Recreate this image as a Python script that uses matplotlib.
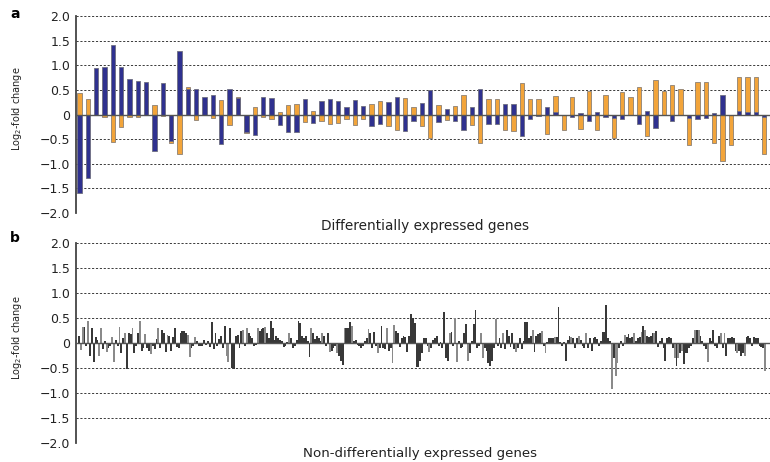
import numpy as np
import matplotlib.pyplot as plt

# log2-fold change per differentially expressed gene, two conditions per gene
de_orange = [0.43, 0.32, 0.0, -0.05, -0.55, -0.26, -0.05, -0.05, 0.62, 0.19,
             -0.04, -0.57, -0.81, 0.55, -0.11, 0.0, -0.07, 0.30, -0.22, 0.35,
             -0.38, 0.16, -0.05, -0.09, 0.06, 0.19, 0.22, -0.16, 0.07, -0.14,
             -0.19, -0.17, -0.09, -0.22, -0.10, 0.21, 0.28, -0.24, -0.32, 0.34,
             0.15, -0.24, -0.47, 0.19, -0.11, 0.17, 0.40, -0.22, -0.57, 0.31,
             0.32, -0.32, -0.34, 0.64, 0.32, 0.31, -0.39, 0.38, -0.32, 0.36,
             -0.30, 0.47, -0.32, 0.39, -0.47, 0.45, 0.36, 0.55, -0.43, 0.70,
             0.47, 0.59, 0.51, -0.61, 0.66, 0.66, -0.58, -0.95, -0.61, 0.77,
             0.77, 0.77, -0.81]
de_blue = [-1.59, -1.29, 0.95, 0.96, 1.41, 0.97, 0.73, 0.68, 0.65, -0.74,
           0.64, -0.53, 1.28, 0.52, 0.52, 0.35, 0.40, -0.60, 0.52, 0.33,
           -0.36, -0.41, 0.35, 0.34, -0.22, -0.35, -0.36, 0.31, -0.17, 0.28,
           0.32, 0.28, 0.16, 0.30, 0.18, -0.24, -0.20, 0.26, 0.36, -0.33,
           -0.13, 0.24, 0.49, -0.16, 0.12, -0.13, -0.31, 0.15, 0.51, -0.19,
           -0.19, 0.21, 0.21, -0.44, -0.09, -0.03, 0.15, 0.06, 0.0, -0.06,
           0.03, -0.13, 0.06, -0.06, -0.07, -0.09, 0.0, -0.19, 0.07, -0.27,
           0.0, -0.13, 0.0, -0.07, -0.10, -0.07, 0.03, 0.40, 0.0, 0.08,
           0.06, 0.06, -0.05]

# non-differentially expressed genes
nd_part1 = [0.15, -0.13, 0.33, 0.32, -0.05, 0.45, -0.25, 0.30, -0.38, 0.12, 0.06,
            -0.25, 0.30, -0.12, 0.05, -0.18, -0.10, -0.05, 0.12, -0.38, 0.07,
            -0.05, 0.33, -0.20, 0.10, 0.20, -0.52, 0.20, 0.18, 0.30, -0.20, -0.06,
            0.20, 0.45, -0.15, -0.10, 0.18, -0.10, -0.15, -0.22, -0.05, -0.12, 0.08,
            0.30, -0.10, 0.27, 0.20, -0.18, 0.17, 0.15, -0.15, 0.12, 0.30, -0.07,
            -0.10, 0.20, 0.25, 0.25, 0.20, 0.17, -0.27, -0.10, -0.05, 0.12, 0.05,
            -0.05, -0.05, -0.05, 0.07, -0.03, 0.05, -0.07, 0.43, -0.12, 0.20, -0.06, 0.08,
            0.15, -0.10, 0.35, -0.25, -0.38, 0.30, -0.50, -0.52, 0.15, 0.17,
            -0.10, 0.25, 0.27, -0.05, 0.30, 0.20, 0.15, 0.10, -0.05]
nd_part2 = [-0.03, 0.30, 0.25, 0.28, 0.30, 0.33, 0.20, 0.10, 0.45, 0.30, 0.06,
            0.15, 0.10, 0.07, 0.05, -0.07, -0.05, 0.03, 0.20, 0.10, -0.10, -0.05,
            0.07, 0.45, 0.40, 0.15, 0.10, 0.15, 0.05, -0.27, 0.30, 0.20, 0.08,
            0.15, 0.10, 0.05, 0.20, 0.15, -0.05, 0.20, -0.18, -0.15, -0.10, -0.06,
            -0.20, -0.25, -0.35, -0.43, 0.30, 0.30, 0.30, 0.43, 0.35, 0.05, 0.07,
            -0.03, -0.05, -0.10, -0.05, 0.05, 0.10, 0.28, 0.20, -0.10, 0.22, -0.05,
            -0.20, -0.10, 0.35, -0.10, -0.12, 0.30, -0.15, -0.10, -0.40, 0.36,
            0.25, 0.20, -0.08, 0.10, 0.15, 0.13, -0.18, 0.15, 0.58, 0.50,
            0.40, -0.47, -0.47, -0.35, -0.20, 0.10, 0.10, -0.05, -0.17, -0.10,
            0.07, 0.10, 0.15, -0.05, 0.03, -0.10, 0.63, -0.30, -0.35, 0.20,
            0.22, -0.05, 0.50, -0.38, 0.05, -0.10, -0.07, 0.20, 0.38, -0.35,
            -0.20, 0.05, 0.38, 0.67, -0.10, -0.05, 0.20, -0.30, -0.10, -0.15,
            -0.40, -0.45, -0.35, -0.10, 0.48]
nd_part3 = [-0.05, 0.10, -0.10, 0.20, -0.12, 0.27, 0.15, -0.08, 0.20, -0.12,
            -0.17, -0.10, 0.10, -0.12, 0.05, 0.43, 0.43, 0.10, 0.15, 0.27,
            -0.17, 0.15, 0.18, 0.20, 0.25, -0.05, -0.20, 0.02, 0.10, 0.10,
            0.10, 0.12, 0.13, 0.73, 0.03, -0.05, 0.03, -0.35, 0.07, 0.15,
            0.12, 0.10, -0.10, 0.10, 0.15, 0.07, -0.05, -0.10, 0.20, -0.10,
            0.10, -0.15, 0.10, 0.12, 0.08, -0.05, 0.05, 0.23, 0.23, 0.77,
            0.10, 0.05, -0.92, -0.30, -0.65, -0.40, -0.10, 0.05, -0.05, 0.17,
            0.12, 0.18, 0.10, 0.13, 0.20, 0.05, 0.10, 0.12, 0.22,
            0.35, 0.27, 0.15, 0.12, 0.15, 0.20, 0.20, 0.25, -0.07,
            0.05, 0.10, -0.10, -0.35, 0.10, 0.12, 0.10, -0.10,
            -0.30, -0.45, -0.30, -0.20, -0.15, -0.42, -0.20, -0.20, -0.10, -0.05,
            0.10, 0.27, 0.27, 0.27, 0.15, 0.05, -0.05, -0.12, -0.38,
            0.10, 0.05, 0.27, -0.05, -0.10, 0.15, 0.20, -0.10, 0.20,
            -0.25, 0.10, 0.10, 0.12, 0.10, -0.15, -0.20, -0.15, -0.25,
            -0.20, -0.25, 0.12, 0.15, 0.10, -0.05, 0.12, 0.10, 0.10,
            -0.05, -0.07, -0.10, -0.55]
# which condition each bar belongs to (d = dark, l = light)
nd_cond1 = ("dllddldddd d llddlddlld dlddldddld d dlddlddldd d lddddldddd d "
            "dddddllddl d dddddddddd dd dddllddddd ddldldd dd")
nd_cond2 = ("dldddldddd d dddddddldd d ddddddddld d dddldddldd d ldddldddld d "
            "ddddddlddd d lddddlddll dddddddddd ddddddddld dddddddddl "
            "ddlldddddl ddddddlldd ddddl")
nd_cond3 = ("dddldddddd lddddddddl ddddldlddd dldddddddd ldddldddld dddddddddd "
            "ddldlldddl ddddldddl dlddddldd dddddddd ldldlddddd dldlddddl "
            "ddddddldl ddddddldd dlddddddd dddl")

nd_vals = np.array(nd_part1 + nd_part2 + nd_part3)
nd_cond = np.array(list((nd_cond1 + nd_cond2 + nd_cond3).replace(" ", "")))
assert len(nd_vals) == len(nd_cond), (len(nd_vals), len(nd_cond))

tick_vals = [-2.0, -1.5, -1.0, -0.5, 0, 0.5, 1.0, 1.5, 2.0]
tick_text = ['\u22122.0', '\u22121.5', '\u22121.0', '\u22120.5', '0',
             '0.5', '1.0', '1.5', '2.0']

plt.rcParams['font.family'] = 'DejaVu Sans'

fig = plt.figure(figsize=(7.7, 4.62), dpi=100, facecolor='white')
W, H = 770, 462
ax_a = fig.add_axes([76 / W, 1 - 213 / H, 694 / W, 197 / H])
ax_b = fig.add_axes([76 / W, 1 - 443 / H, 694 / W, 200 / H])


def style_axis(ax):
    ax.set_ylim(-2, 2)
    ax.set_yticks(tick_vals)
    ax.set_yticklabels(tick_text)
    for y in tick_vals:
        if y != 0:
            ax.axhline(y, color='#3a3a3a', lw=0.7, ls=(0, (2.2, 1.8)), zorder=0)
    ax.axhline(0, color='#555555', lw=1.0, zorder=3)
    for side in ['top', 'right', 'bottom']:
        ax.spines[side].set_visible(False)
    ax.spines['left'].set_color('#444444')
    ax.spines['left'].set_linewidth(1.3)
    ax.tick_params(axis='y', length=0, pad=4, labelsize=9, colors='#222222')
    ax.set_xticks([])


# panel a
x_de = np.arange(len(de_orange))
ax_a.bar(x_de, de_orange, width=0.52, color='#f2a43a', edgecolor='#8c8074',
         linewidth=0.6, zorder=2)
ax_a.bar(x_de, de_blue, width=0.52, color='#2f318f', edgecolor='#6e6e80',
         linewidth=0.6, zorder=2)
ax_a.set_xlim(-0.4, len(de_orange) - 0.3)
style_axis(ax_a)

# panel b
n = len(nd_vals)
x_nd = np.arange(n)
ppu = (765 - 79) / (n - 1)
dark = nd_cond == 'd'
ax_b.bar(x_nd[dark], nd_vals[dark], width=1.0, color='#383838', linewidth=0, zorder=2)
ax_b.bar(x_nd[~dark], nd_vals[~dark], width=1.0, color='#8a8a8a', linewidth=0, zorder=2)
ax_b.set_xlim(-3 / ppu, n - 1 + 5 / ppu)
style_axis(ax_b)

fig.text(10 / W, 1 - 14 / H, 'a', fontsize=10, fontweight='bold', va='center')
fig.text(10 / W, 1 - 238 / H, 'b', fontsize=10, fontweight='bold', va='center')
fig.text(17 / W, 1 - 109 / H, 'Log$_2$-fold change', rotation=90,
         ha='center', va='center', fontsize=7, color='#222222')
fig.text(17 / W, 1 - 338 / H, 'Log$_2$-fold change', rotation=90,
         ha='center', va='center', fontsize=7, color='#222222')
fig.text(425 / W, 1 - 226 / H, 'Differentially expressed genes',
         ha='center', va='center', fontsize=9.8, color='#222222')
fig.text(420 / W, 1 - 454 / H, 'Non-differentially expressed genes',
         ha='center', va='center', fontsize=9.6, color='#222222')

fig.savefig('out.png', dpi=100, facecolor='white')
